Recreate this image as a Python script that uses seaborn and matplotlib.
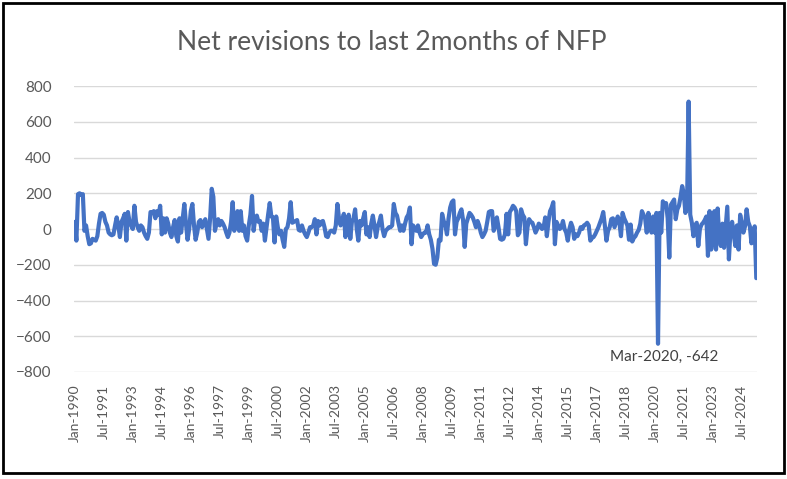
import numpy as np
import pandas as pd
import matplotlib
matplotlib.use("Agg")
import matplotlib.pyplot as plt
import seaborn as sns
from matplotlib.patches import Rectangle

# monthly net revisions (thousands), Jan-1990 .. Apr-2025
y1990 = [40, -65, 195, 200, 190, 195, -10, 20, -40, -85, -80, -55]
y1991 = [-60, -65, -40, 30, 85, 90, 80, 40, 20, -20, -30, -35]
y1992 = [-30, 20, 65, 20, -45, 40, 60, 85, -65, 95, 40, 20]
y1993 = [0, 130, 40, 10, -10, 20, 10, -20, -40, -55, -20, 95]
y1994 = [90, 100, 60, 100, 80, 130, -30, 60, -20, 60, 30, -20]
y1995 = [-45, 10, 50, -40, -70, 60, -20, 60, 140, 30, -60, 0]
y1996 = [100, 140, 20, -60, -20, 40, 50, 10, 30, 55, 0, -55]
y1997 = [60, 225, 180, -10, 30, 55, 20, 45, 30, 10, -20, -45]
y1998 = [-20, 40, 150, -10, 30, 100, -10, 100, -10, 20, -40, -65]
y1999 = [20, 80, 185, -10, 60, 75, 40, 45, -10, 30, -65, 10]
y2000 = [80, 145, 70, 65, -75, 70, 10, -30, -10, -60, -100, 0]
y2001 = [10, 60, 150, 35, 40, 45, 50, -5, -10, 20, -10, -30]
y2002 = [-45, -20, 10, 10, 20, 55, -30, 45, 20, 40, 45, 10]
y2003 = [-40, -45, -20, -10, -10, -20, 20, 140, 60, 20, 50, 85]
y2004 = [-45, 30, 80, -55, 40, 60, 110, 0, -65, 45, 20, 60]
y2005 = [95, -30, 10, -45, 30, 75, 20, -45, 10, 40, 75, 0]
y2006 = [-40, -10, 0, 10, 10, 20, 140, 90, 75, 30, -10, 20]
y2007 = [-10, 30, 65, 80, 120, -85, 20, 0, -10, 20, -20, -45]
y2008 = [-30, -20, -20, 20, -30, -60, -110, -195, -200, -160, -60, -65]
y2009 = [85, 45, 20, -30, 60, 120, 150, 160, -30, 40, 60, 90]
y2010 = [110, 50, -100, 30, 60, 90, 80, 65, 40, 10, 45, 20]
y2011 = [-20, -45, -30, -10, 40, 95, 100, 100, -10, 20, 65, 10]
y2012 = [-55, -60, -55, -30, 85, -30, 95, 110, 130, 120, 100, -35]
y2013 = [-20, 110, 80, 65, -85, 10, 55, 40, 35, 10, -20, 0]
y2014 = [30, 20, 0, 10, 65, -40, 40, 100, 120, 150, -85, 40]
y2015 = [20, 0, 10, 45, 0, -20, -65, 0, 35, 10, -55, -30]
y2016 = [-40, -20, 10, 0, 20, 25, 35, 20, -65, -50, -45, -30]
y2017 = [-10, 10, 35, 60, 95, 20, -65, -10, 10, 55, 60, 10]
y2018 = [40, 70, 40, -40, 90, 60, 40, 20, -60, 25, -70, -50]
y2019 = [-40, -20, -5, 30, 100, 80, 60, -20, 90, 50, -20, 70]
y2020 = [-20, 90, -642, 90, -20, 155, 130, 145, 60, -160, 135, 150]
y2021 = [165, 55, 110, 130, 180, 240, 200, 90, 120, 713, 80, 35]
y2022 = [-40, 20, 35, -95, 0, 25, 35, 50, 70, -150, 100, -115]
y2023 = [-50, 100, -115, 115, -40, -95, 30, -105, 10, 125, -170, -5]
y2024 = [40, -30, -95, 20, -115, 80, 30, -20, 15, 110, 40, 15]
y2025 = [-80, -20, 15, -275]

values = (y1990 + y1991 + y1992 + y1993 + y1994 + y1995 + y1996 + y1997
          + y1998 + y1999 + y2000 + y2001 + y2002 + y2003 + y2004 + y2005
          + y2006 + y2007 + y2008 + y2009 + y2010 + y2011 + y2012 + y2013
          + y2014 + y2015 + y2016 + y2017 + y2018 + y2019 + y2020 + y2021
          + y2022 + y2023 + y2024 + y2025)
months = pd.date_range("1990-01-01", periods=len(values), freq="MS")
df = pd.DataFrame({"idx": np.arange(len(values)), "rev": values})

tick_idx = list(range(0, len(values), 18))
tick_labels = [months[i].strftime("%b-%Y") for i in tick_idx]
trough = values.index(min(values))

sns.set_style("white")
plt.rcParams["font.family"] = ["Lato", "DejaVu Sans"]
grey = "#595959"

fig = plt.figure(figsize=(7.87, 4.79), dpi=100)
ax = fig.add_axes([0.094, 0.2234, 0.868, 0.597])
sns.lineplot(data=df, x="idx", y="rev", ax=ax, color="#4472C4", linewidth=3)

ax.set_xlim(-0.5, len(values) - 0.5)
ax.set_ylim(-800, 800)
ax.set_yticks(range(-800, 801, 200))
ax.yaxis.grid(True, color="#D9D9D9", linewidth=1)
ax.set_axisbelow(True)
ax.set_xticks(tick_idx)
ax.set_xticklabels(tick_labels, rotation=90, fontsize=10, color=grey)
ax.tick_params(axis="y", labelsize=11, colors=grey, length=0, pad=16)
ax.tick_params(axis="x", length=0, pad=9)
for s in ax.spines.values():
    s.set_visible(False)
ax.set_xlabel("")
ax.set_ylabel("")

ax.annotate(f"{months[trough].strftime('%b-%Y')}, {values[trough]}",
            xy=(trough, values[trough]), xytext=(trough + 4, -718),
            ha="center", va="center", fontsize=11, color="#404040")

fig.text(0.498, 0.912, "Net revisions to last 2months of NFP",
         ha="center", va="center", fontsize=19, color=grey)
fig.patches.append(Rectangle((0.004, 0.013), 0.992, 0.98, transform=fig.transFigure,
                             fill=False, edgecolor="black", linewidth=2))

fig.savefig("out.png", dpi=100)
